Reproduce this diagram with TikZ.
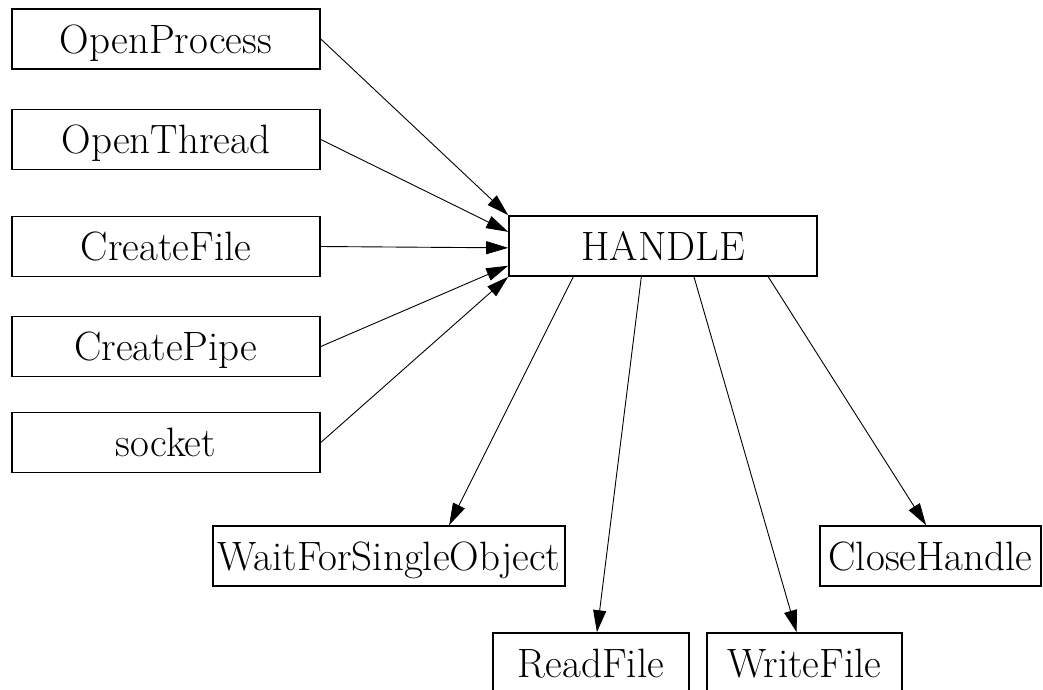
\documentclass[tikz,border=0pt]{standalone}
\usepackage{tikz}
\usetikzlibrary{arrows.meta,calc}

\begin{document}
\begin{tikzpicture}[x=1pt,y=-1pt,>={Triangle[length=22pt,width=13pt]},
  box/.style={draw,line width=1.6pt,inner sep=0pt,minimum height=60pt,
    font=\fontsize{41}{46}\selectfont,text height=28pt,text depth=0pt},
  call/.style={line width=0.9pt,->}]
  \useasboundingbox (0,0) rectangle (1043,689);
  % creating functions
  \node[box,minimum width=308pt] (openprocess) at (166,39) {OpenProcess};
  \node[box,minimum width=308pt] (openthread) at (166,139.5) {OpenThread};
  \node[box,minimum width=308pt] (createfile) at (166,246.5) {CreateFile};
  \node[box,minimum width=308pt] (createpipe) at (166,346.5) {CreatePipe};
  \node[box,minimum width=308pt] (socket) at (166,442.5) {socket};
  % the handle
  \node[box,minimum width=308pt] (handle) at (663,246) {HANDLE};
  % using functions
  \node[box,minimum width=352pt] (waitfor) at (389,556) {WaitForSingleObject};
  \node[box,minimum width=221pt] (closehandle) at (930.5,556) {CloseHandle};
  \node[box,minimum width=196pt] (readfile) at (591,663) {ReadFile};
  \node[box,minimum width=195pt] (writefile) at (804.5,663) {WriteFile};
  % edges into the handle
  \foreach \src/\f in {openprocess/0,openthread/0.27,createfile/0.53,createpipe/0.82,socket/1}
    {\draw[call] (\src.east) -- ($(handle.north west)!\f!(handle.south west)$);}
  % edges out of the handle
  \foreach \dst/\a/\b in {waitfor/0.21/0.67,readfile/0.43/0.53,writefile/0.6/0.46,closehandle/0.84/0.48}
    {\draw[call] ($(handle.south west)!\a!(handle.south east)$) -- ($(\dst.north west)!\b!(\dst.north east)$);}
\end{tikzpicture}
\end{document}
